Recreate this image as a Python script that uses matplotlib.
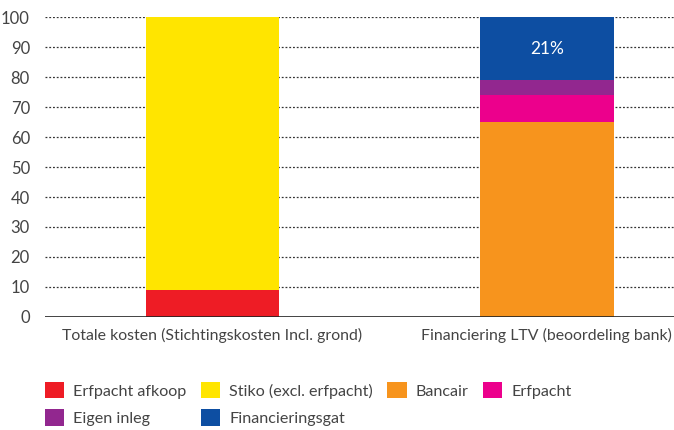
import matplotlib
matplotlib.use("Agg")
from matplotlib import pyplot as plt
from matplotlib.patches import Patch

plt.rcParams['font.family'] = ['Lato', 'DejaVu Sans']

categories = ["Totale kosten (Stichtingskosten Incl. grond)",
              "Financiering LTV (beoordeling bank)"]
series_names = ["Erfpacht afkoop", "Stiko (excl. erfpacht)", "Bancair",
                "Erfpacht", "Eigen inleg", "Financieringsgat"]
series_values = [
    [9, 0],
    [91, 0],
    [0, 65],
    [0, 9],
    [0, 5],
    [0, 21],
]
series_colors = ["#EE1C25", "#FFE500", "#F7941D", "#EC008C", "#92278F", "#0D4EA2"]
gap_label = "21%"
yticks = list(range(0, 101, 10))

fig = plt.figure(figsize=(6.74, 4.30), dpi=100)
ax = fig.add_axes([0.067, 0.263, 0.933, 0.697])

x = list(range(len(categories)))
bottoms = [0] * len(categories)
for name, vals, col in zip(series_names, series_values, series_colors):
    ax.bar(x, vals, bottom=bottoms, width=0.4, color=col, zorder=3, label=name)
    bottoms = [b + v for b, v in zip(bottoms, vals)]

# label inside the financing gap
gap = series_values[-1][1]
ax.text(1, bottoms[1] - gap / 2, gap_label, color="white", fontsize=12.5,
        ha="center", va="center", zorder=4)

ax.set_xlim(-0.5, 1.38)
ax.set_ylim(0, 100)
ax.set_yticks(yticks)
ax.set_xticks(x)
ax.set_xticklabels(categories)
ax.get_xticklabels()[1].set_x(1)
for g in yticks[1:]:
    ax.axhline(g, color="#333333", linestyle=(0, (1.5, 1.5)), linewidth=0.9, zorder=1)
ax.axhline(0, color="#222222", linewidth=1.2, zorder=5)

for s in ax.spines.values():
    s.set_visible(False)
ax.tick_params(axis="y", length=0, labelsize=12, colors="#444444", pad=11)
ax.tick_params(axis="x", length=0, labelsize=11.4, colors="#444444", pad=8)

handles = [Patch(facecolor=c, edgecolor="none") for c in series_colors]
order = [0, 4, 1, 5, 2, 3]
fig.legend([handles[i] for i in order], [series_names[i] for i in order],
           ncol=4, loc="upper left", bbox_to_anchor=(0.05, 0.138),
           frameon=False, fontsize=11.6, handlelength=1.2, handleheight=1.2,
           handletextpad=0.55, columnspacing=0.9, labelspacing=0.65,
           borderpad=0.2, labelcolor="#444444")

fig.savefig("out.png", dpi=100)
